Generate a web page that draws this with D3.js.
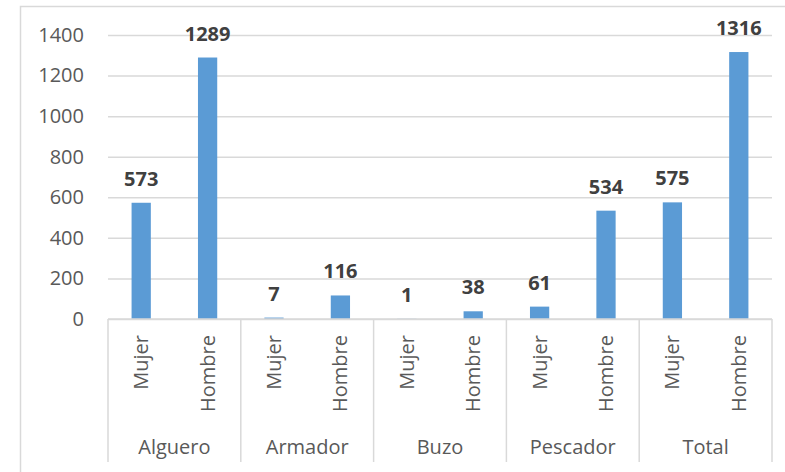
<!DOCTYPE html>
<html>
<head>
<meta charset="utf-8">
<script src="https://cdn.jsdelivr.net/npm/d3@7"></script>
<style>
  html, body { margin: 0; padding: 0; background: #fff; }
  svg { display: block; font-family: "Open Sans", sans-serif; }
</style>
</head>
<body>
<div id="chart"></div>
<script>
const groups = ["Alguero", "Armador", "Buzo", "Pescador", "Total"];
const sexes = ["Mujer", "Hombre"];
const mujerValues = [573, 7, 1, 61, 575];
const hombreValues = [1289, 116, 38, 534, 1316];
const yTicks = [0, 200, 400, 600, 800, 1000, 1200, 1400];

const width = 785;
const height = 472;

const rows = groups.flatMap((group, i) => [
  { group, sex: sexes[0], value: mujerValues[i], key: `${group}-${sexes[0]}` },
  { group, sex: sexes[1], value: hombreValues[i], key: `${group}-${sexes[1]}` },
]);

const plot = { left: 108, right: 772, top: 35, bottom: 319 };

const svg = d3.select("#chart")
  .append("svg")
  .attr("width", width)
  .attr("height", height);

// outer chart frame
svg.append("rect")
  .attr("x", 20.5)
  .attr("y", 6.5)
  .attr("width", width)
  .attr("height", height)
  .attr("fill", "none")
  .attr("stroke", "#d9d9d9")
  .attr("stroke-width", 1.5);

const x = d3.scaleBand()
  .domain(rows.map((d) => d.key))
  .range([plot.left, plot.right])
  .paddingInner(0.71)
  .paddingOuter(0.355);

const y = d3.scaleLinear()
  .domain([0, 1400])
  .range([plot.bottom, plot.top]);

// grid lines + y labels
svg.append("g")
  .attr("transform", `translate(${plot.left}, 0)`)
  .call(
    d3.axisLeft(y)
      .tickValues(yTicks)
      .tickFormat(d3.format("d"))
      .tickSize(-(plot.right - plot.left))
      .tickPadding(24),
  )
  .call((g) => g.select(".domain").remove())
  .call((g) => g.selectAll(".tick line").attr("stroke", "#d9d9d9").attr("stroke-width", 1.5))
  .call((g) => g.selectAll(".tick text")
    .attr("fill", "#595959")
    .attr("font-size", 20)
    .attr("font-family", "Open Sans, sans-serif"));

// bars
svg.append("g")
  .selectAll("rect")
  .data(rows)
  .join("rect")
  .attr("x", (d) => x(d.key))
  .attr("y", (d) => y(d.value))
  .attr("width", x.bandwidth())
  .attr("height", (d) => y(0) - y(d.value))
  .attr("fill", "#5b9bd5");

// value labels
svg.append("g")
  .selectAll("text")
  .data(rows)
  .join("text")
  .attr("x", (d) => x(d.key) + x.bandwidth() / 2)
  .attr("y", (d) => y(d.value) - 17)
  .attr("text-anchor", "middle")
  .attr("font-size", 20)
  .attr("font-weight", "bold")
  .attr("fill", "#404040")
  .text((d) => d.value);

// category axis: baseline, separators, labels
const groupWidth = (plot.right - plot.left) / groups.length;
const axisG = svg.append("g");

axisG.append("line")
  .attr("x1", plot.left)
  .attr("x2", plot.right)
  .attr("y1", plot.bottom)
  .attr("y2", plot.bottom)
  .attr("stroke", "#d9d9d9")
  .attr("stroke-width", 1.5);

axisG.selectAll(".sep")
  .data(d3.range(groups.length + 1))
  .join("line")
  .attr("class", "sep")
  .attr("x1", (i) => plot.left + i * groupWidth)
  .attr("x2", (i) => plot.left + i * groupWidth)
  .attr("y1", plot.bottom)
  .attr("y2", 462)
  .attr("stroke", "#d9d9d9")
  .attr("stroke-width", 1.5);

axisG.selectAll(".sex")
  .data(rows)
  .join("text")
  .attr("class", "sex")
  .attr("transform", (d) => `translate(${x(d.key) + x.bandwidth() / 2 + 7}, 335) rotate(-90)`)
  .attr("text-anchor", "end")
  .attr("font-size", 20)
  .attr("fill", "#595959")
  .text((d) => d.sex);

axisG.selectAll(".grp")
  .data(groups)
  .join("text")
  .attr("class", "grp")
  .attr("x", (d, i) => plot.left + (i + 0.5) * groupWidth)
  .attr("y", 454)
  .attr("text-anchor", "middle")
  .attr("font-size", 20)
  .attr("fill", "#595959")
  .text((d) => d);
</script>
</body>
</html>
